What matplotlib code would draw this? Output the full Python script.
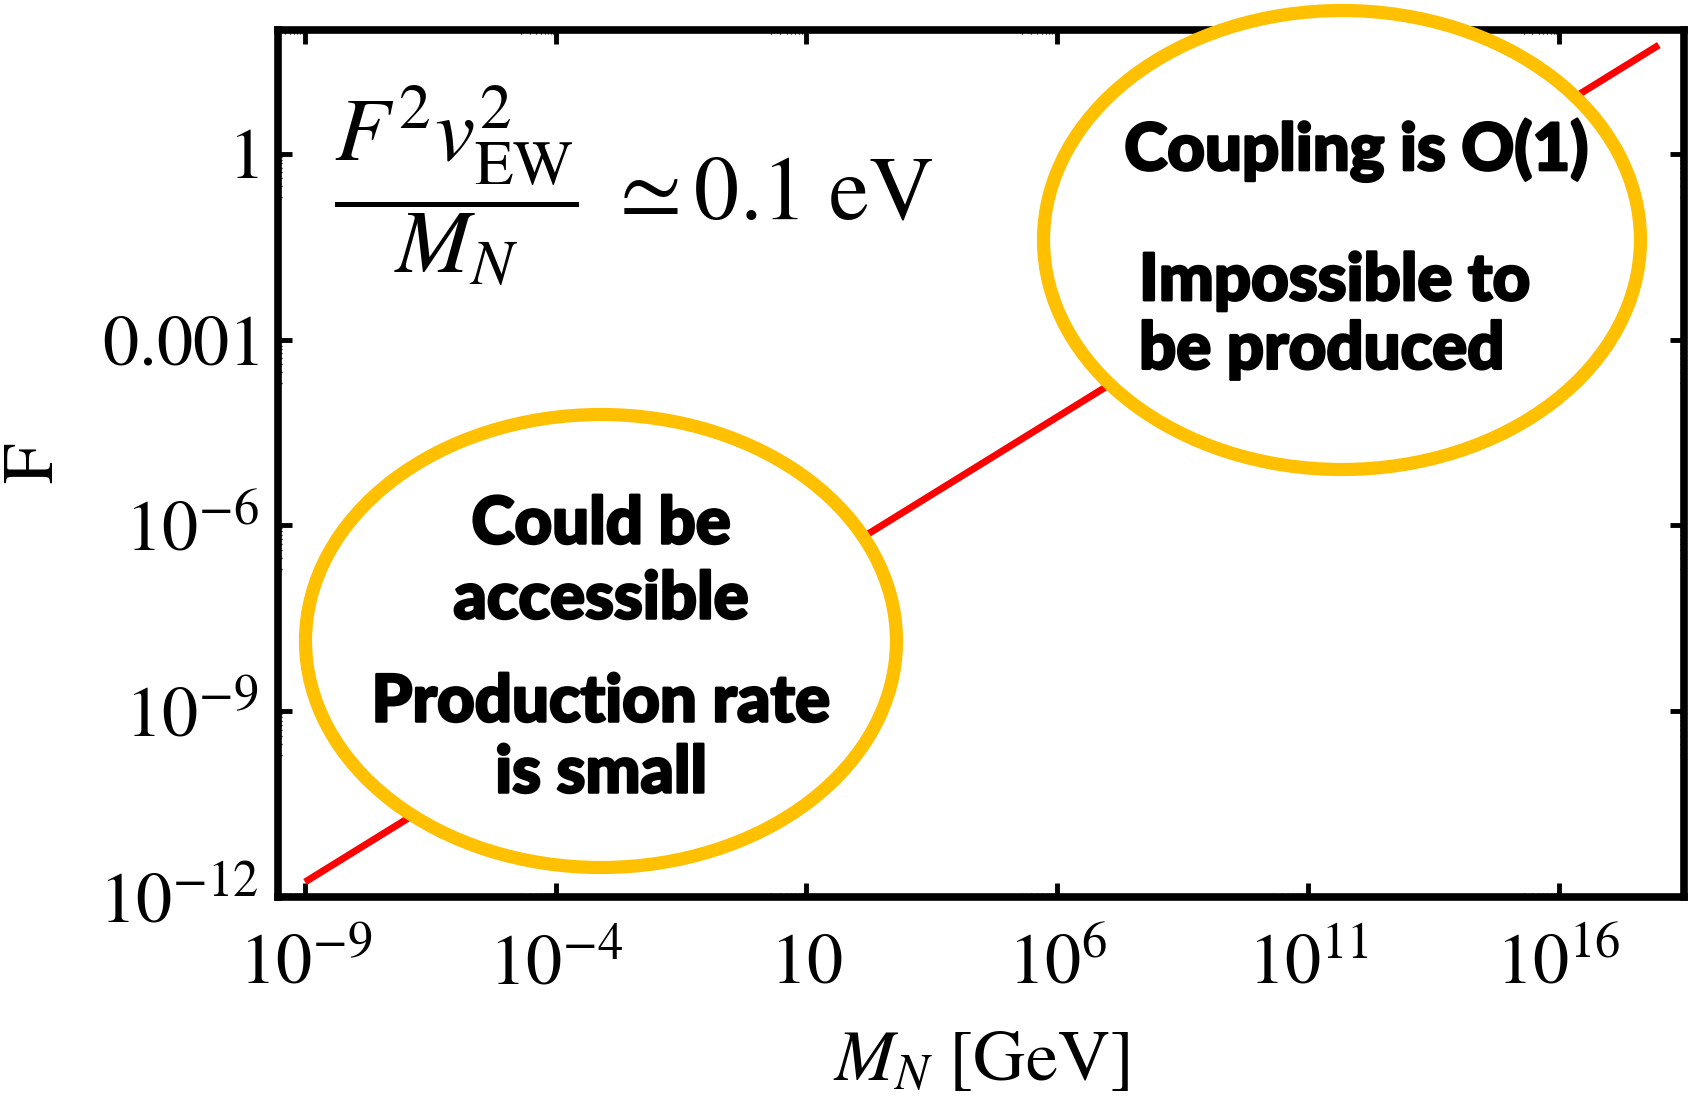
import matplotlib
matplotlib.use("Agg")
import matplotlib.pyplot as plt
import matplotlib.patheffects as pe
from matplotlib.patches import Ellipse

plt.rcParams["mathtext.fontset"] = "stix"
plt.rcParams["font.family"] = "STIXGeneral"

# seesaw line F(M_N) (straight in log-log)
m_n = [1e-9, 1e18]
coupling = [1.75e-12, 57.0]

x_ticks = [1e-9, 1e-4, 1e1, 1e6, 1e11, 1e16]
x_labels = [r"$10^{-9}$", r"$10^{-4}$", r"$10$", r"$10^{6}$", r"$10^{11}$", r"$10^{16}$"]
y_ticks = [1e-12, 1e-9, 1e-6, 1e-3, 1e0]
y_labels = [r"$10^{-12}$", r"$10^{-9}$", r"$10^{-6}$", r"$0.001$", r"$1$"]

left_text = ["Could be", "accessible", "Production rate", "is small"]
right_title = "Coupling is O(1)"
right_text = "Impossible to\nbe produced"

GOLD = "#FFC000"

fig = plt.figure(figsize=(16.9, 10.97), dpi=100)
ax = fig.add_axes([0.1645, 0.1823, 0.8319, 0.7904])

ax.plot(m_n, coupling, color="#FF0000", linewidth=5, solid_capstyle="butt")
ax.set_xscale("log")
ax.set_yscale("log")

ax.set_xticks(x_ticks)
ax.set_xticklabels(x_labels)
ax.set_yticks(y_ticks)
ax.set_yticklabels(y_labels)

# small minor ticks just below each major tick, like the original
xm = [k * t / 10 for t in x_ticks for k in range(2, 10)]
ym = [k * t / 10 for t in y_ticks for k in range(2, 10)]
ax.set_xticks(xm, minor=True)
ax.set_yticks(ym, minor=True)
ax.set_xlim(10 ** -9.54, 10 ** 18.5)
ax.set_ylim(1e-12, 1e2)
ax.tick_params(which="major", direction="in", length=10, width=3.5,
               top=True, right=True, labelsize=52)
ax.tick_params(axis="x", which="major", pad=26)
ax.tick_params(axis="y", which="major", pad=14)
ax.tick_params(which="minor", direction="in", length=3, width=1,
               top=True, right=True, labelbottom=False, labelleft=False)
for s in ax.spines.values():
    s.set_linewidth(5.5)

ax.set_xlabel(r"$M_N\ [\mathrm{GeV}]$", fontsize=52, labelpad=22)
ax.set_ylabel(r"$\mathrm{F}$", fontsize=52, labelpad=22)

ax.text(0.04, 0.82, r"$\dfrac{F^2 v_{\rm EW}^2}{M_N}\;\simeq 0.1\ \mathrm{eV}$",
        transform=ax.transAxes, fontsize=65, ha="left", va="center")

W, H = 1690.0, 1097.0
for cx, cy, w, h in [(601, 641, 591, 453), (1342, 240, 597, 459)]:
    e = Ellipse((cx / W, 1 - cy / H), w / W, h / H, transform=fig.transFigure,
                facecolor="white", edgecolor=GOLD, linewidth=9.5, zorder=5)
    fig.add_artist(e)

heavy = [pe.withStroke(linewidth=1.8, foreground="black")]
fkw = dict(family=["Lato", "DejaVu Sans"], fontweight=900, fontsize=47,
           zorder=6, color="black", path_effects=heavy)
for txt, y in zip(left_text, [525, 600, 703, 774]):
    fig.text(601 / W, 1 - y / H, txt, ha="center", va="center", **fkw)
fig.text(1356 / W, 1 - 151 / H, right_title, ha="center", va="center", **fkw)
fig.text(1139 / W, 1 - 316 / H, right_text, ha="left", va="center",
         linespacing=1.2, **fkw)

fig.savefig("out.png", dpi=100)
